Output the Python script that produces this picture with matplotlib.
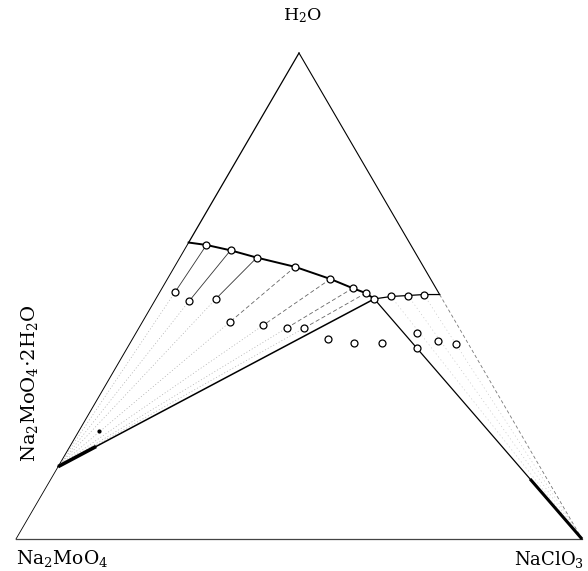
import numpy as np
import matplotlib.pyplot as plt

plt.rcParams['font.family'] = ['DejaVu Serif']
plt.rcParams['mathtext.fontset'] = 'custom'
plt.rcParams['mathtext.rm'] = 'DejaVu Serif'
plt.rcParams['mathtext.it'] = 'DejaVu Serif:italic'

# weight fractions: water, NaClO3 (rest is Na2MoO4)
hydrate = (0.149, 0.0)            # Na2MoO4.2H2O
curve_start = (0.61, 0.0)         # saturated Na2MoO4 solution (binary)
left_wH = [0.605, 0.594, 0.579, 0.560, 0.535, 0.516, 0.506]
left_wC = [0.034, 0.082, 0.136, 0.213, 0.288, 0.337, 0.365]
invariant = (0.494, 0.386)
right_wH = [0.499, 0.501, 0.503]
right_wC = [0.413, 0.442, 0.469]
curve_end = (0.503, 0.497)        # saturated NaClO3 solution (binary)

# wet residues
res_left_wH = [0.508, 0.489, 0.494, 0.447, 0.440, 0.435, 0.434]
res_left_wC = [0.027, 0.061, 0.106, 0.155, 0.217, 0.262, 0.292]
res_mid_wH = [0.412, 0.403, 0.403]
res_mid_wC = [0.346, 0.395, 0.446]
res_right_wH = [0.424, 0.408, 0.401, 0.394]
res_right_wC = [0.496, 0.542, 0.577, 0.511]
dot = (0.223, 0.036)

H = 486 / 566


def to_xy(wH, wC):
    wH = np.asarray(wH, float)
    wC = np.asarray(wC, float)
    return wC + 0.5 * wH, wH * H


def line(p, q, **kw):
    x, y = to_xy([p[0], q[0]], [p[1], q[1]])
    ax.plot(x, y, **kw)


def part(p, q, t):
    return (p[0] + t * (q[0] - p[0]), p[1] + t * (q[1] - p[1]))


fig = plt.figure(figsize=(5.88, 5.71), dpi=100)
ax = fig.add_axes([0, 0, 1, 1])
ax.set_xlim(-16 / 566, 572 / 566)
ax.set_ylim(-32 / 566, 539 / 566)
ax.axis('off')

water = (1.0, 0.0)
molyb = (0.0, 0.0)
chlor = (0.0, 1.0)

# triangle
line(water, curve_start, color='black', lw=0.9)
line(curve_start, hydrate, color='black', lw=0.7)
line(hydrate, molyb, color='black', lw=0.6)
line(molyb, chlor, color='#444444', lw=0.9)
line(water, curve_end, color='black', lw=0.8)
line(curve_end, chlor, color='#777777', lw=0.6, ls=(0, (4, 3)))

# tie lines to hydrate
for i, (wh, wc, rh, rc) in enumerate(zip(left_wH, left_wC, res_left_wH, res_left_wC)):
    ls = '-' if i < 3 else (0, (5, 3))
    col = '#333333' if i < 3 else '#666666'
    line((wh, wc), (rh, rc), color=col, lw=0.6, ls=ls)
    line((rh, rc), hydrate, color='#aaaaaa', lw=0.5, ls=(0, (1.5, 3)))

# tie lines to NaClO3
for wh, wc in zip(right_wH, right_wC):
    line((wh, wc), chlor, color='#c4c4c4', lw=0.5, ls=(0, (1.5, 4)))

# invariant tie lines
line(hydrate, invariant, color='black', lw=1.1)
line(hydrate, part(hydrate, invariant, 0.12), color='black', lw=2.6,
     solid_capstyle='butt')
line(invariant, chlor, color='black', lw=0.9)
line(part(invariant, chlor, 0.75), chlor, color='black', lw=2.2,
     solid_capstyle='butt')

# solubility curves
cx, cy = to_xy([curve_start[0]] + left_wH + [invariant[0]],
               [curve_start[1]] + left_wC + [invariant[1]])
ax.plot(cx, cy, color='black', lw=1.4)
rx, ry = to_xy([invariant[0]] + right_wH + [curve_end[0]],
               [invariant[1]] + right_wC + [curve_end[1]])
ax.plot(rx, ry, color='black', lw=0.9)

mk = dict(ls='none', marker='o', ms=5, mfc='white', mec='black', mew=0.9)
ax.plot(*to_xy(left_wH + [invariant[0]] + right_wH,
               left_wC + [invariant[1]] + right_wC), **mk)
ax.plot(*to_xy(res_left_wH, res_left_wC), **mk)
ax.plot(*to_xy(res_mid_wH, res_mid_wC), **mk)
ax.plot(*to_xy(res_right_wH, res_right_wC), **mk)
ax.plot(*to_xy([dot[0]], [dot[1]]), ls='none', marker='o', ms=2, color='black')

# labels
tx, ty = to_xy([1.0], [0.0])
ax.text(tx[0] + 0.006, ty[0] + 0.066, r'H$_2$O', fontsize=12.5, ha='center', va='center')
ax.text(0.082, -0.034, r'Na$_2$MoO$_4$', fontsize=13.5, ha='center', va='center')
ax.text(0.942, -0.036, r'NaClO$_3$', fontsize=13, ha='center', va='center')
hx, hy = to_xy([hydrate[0]], [hydrate[1]])
ax.text(0.023, hy[0] + 0.008, r'Na$_2$MoO$_4$$\cdot$2H$_2$O', fontsize=14,
        rotation=90, ha='center', va='bottom')

fig.savefig('out.png', dpi=100)
